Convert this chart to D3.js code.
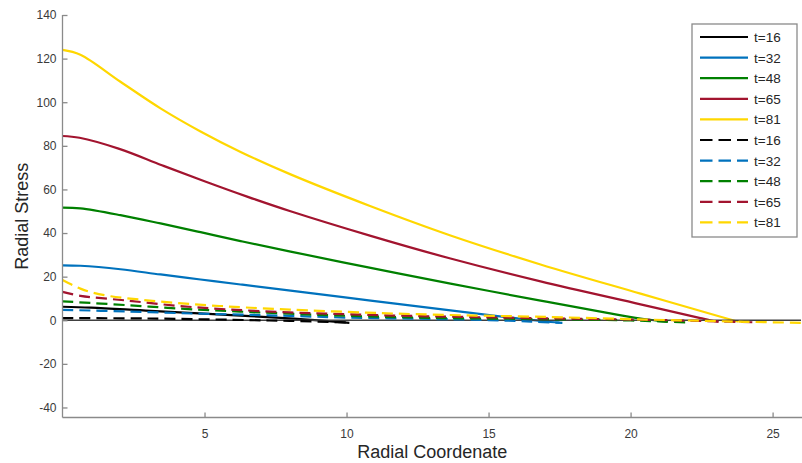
<!DOCTYPE html>
<html>
<head>
<meta charset="utf-8">
<script src="https://cdn.jsdelivr.net/npm/d3@7"></script>
<style>
  html, body { margin: 0; padding: 0; background: #fff; }
  svg { display: block; font-family: "Liberation Sans", Arial, sans-serif; }
</style>
</head>
<body>
<svg id="chart" width="802" height="463"></svg>
<script>
// ---------------- data ----------------
const legendLabels = ["t=16", "t=32", "t=48", "t=65", "t=81"];
const seriesColors = ["#000000", "#0072BD", "#008000", "#A2142F", "#FFD700"];
const xTicks = [5, 10, 15, 20, 25];
const yTicks = [-40, -20, 0, 20, 40, 60, 80, 100, 120, 140];

// solid curves (radius, stress)
const solidR16 = [0, 1, 3.1, 6.6, 8.5, 10.1];
const solidV16 = [6.2, 5.8, 4.3, 1.9, 0.4, -1.2];
const solidR32 = [0, 0.63, 2.04, 3.45, 4.86, 6.27, 8.03, 10.85, 13.66, 15.77, 17.18, 17.5];
const solidV32 = [25.2, 25, 23.4, 21, 18.7, 16.4, 13.6, 9.0, 4.5, 1.2, -0.8, -1.1];
const solidR48 = [0, 0.63, 2.04, 3.45, 4.86, 6.27, 8.03, 10.85, 13.66, 16.83, 19.18, 20.35, 21.3];
const solidV48 = [51.7, 51.3, 48.2, 44.4, 40.4, 36.3, 31.5, 24.0, 16.8, 9.0, 3.4, 0.8, -0.8];
const solidR65 = [0, 0.6, 2, 3.5, 5, 6.5, 8, 10.85, 13.66, 16.83, 20.35, 22.46, 22.8, 23.1];
const solidV65 = [84.5, 83.7, 78.6, 71.1, 63.75, 56.7, 50.1, 38.7, 28.3, 17.8, 7.3, 1.0, 0, -0.8];
const solidR81 = [0, 0.63, 2.04, 3.45, 4.86, 6.27, 8.03, 10.85, 13.66, 16.83, 20.35, 23.17, 23.6, 23.8];
const solidV81 = [124, 121.8, 109.4, 97.2, 86.6, 77.2, 66.9, 52.3, 38.9, 25.6, 12.2, 1.6, 0, -0.7];

// dashed curves (radius, stress)
const dashR16 = [0, 3, 6, 8, 10.1];
const dashV16 = [1.0, 0.8, 0.2, -0.3, -1.0];
const dashR32 = [0, 2.3, 4.6, 6.6, 8, 10.1, 13, 15, 16.5, 17.6];
const dashV32 = [4.8, 4.0, 3.1, 2.5, 2.0, 1.2, 0.6, 0.1, -0.6, -1.2];
const dashR48 = [0, 2.3, 4.6, 8, 10.1, 13, 17, 20, 21, 22];
const dashV48 = [8.7, 6.9, 5.0, 3.0, 2.0, 1.1, 0.5, -0.1, -0.5, -1.0];
const dashR65 = [0, 0.63, 2.3, 4.05, 5.8, 8, 10.1, 13, 17, 20.6, 22.7, 24.5];
const dashV65 = [13, 11.2, 9.0, 6.6, 5.0, 3.6, 2.7, 1.8, 0.9, 0.2, -0.4, -1.0];
const dashR81 = [0, 0.3, 0.63, 1, 1.7, 2.85, 4.05, 5.2, 6.4, 8, 10.7, 13, 17.1, 20.6, 22.7, 24, 26.2];
const dashV81 = [18.5, 16.5, 14.5, 12.9, 11.0, 9.3, 7.9, 6.8, 5.9, 4.9, 3.5, 2.6, 1.5, 0.3, -0.3, -0.7, -1.2];

const solidSeries = [
  [solidR16, solidV16], [solidR32, solidV32], [solidR48, solidV48], [solidR65, solidV65], [solidR81, solidV81]
];
const dashSeries = [
  [dashR16, dashV16], [dashR32, dashV32], [dashR48, dashV48], [dashR65, dashV65], [dashR81, dashV81]
];

// ---------------- chart ----------------
(function () {
const svg = d3.select("#chart");
const mLeft = 62.5, mRight = 801, mTop = 15, mBottom = 417.5;
const dashPattern = "11,6";

const x = d3.scaleLinear().domain([0, 26]).range([mLeft, mRight]);
const y = d3.scaleLinear().domain([-44.6, 140]).range([mBottom, mTop]);

svg.append("defs").append("clipPath").attr("id", "plotclip")
  .append("rect").attr("x", mLeft).attr("y", mTop - 5).attr("width", mRight - mLeft + 2).attr("height", mBottom - mTop + 5);

const line = d3.line().x(d => x(d[0])).y(d => y(d[1])).curve(d3.curveCatmullRom.alpha(0.5));
const toPts = s => s[0].map((r, i) => [r, s[1][i]]);

const plot = svg.append("g").attr("clip-path", "url(#plotclip)");

solidSeries.forEach((s, i) => {
  plot.append("path").datum(toPts(s))
    .attr("d", line).attr("fill", "none")
    .attr("stroke", seriesColors[i]).attr("stroke-width", 2.2)
    .attr("stroke-linejoin", "round");
});

// zero reference line
plot.append("path").datum([[0, 0], [26, 0]])
  .attr("d", d3.line().x(d => x(d[0])).y(d => y(d[1])))
  .attr("stroke", "#404040").attr("stroke-width", 1.3).attr("fill", "none");

dashSeries.forEach((s, i) => {
  plot.append("path").datum(toPts(s))
    .attr("d", line).attr("fill", "none")
    .attr("stroke", seriesColors[i]).attr("stroke-width", 2.2)
    .attr("stroke-dasharray", dashPattern);
});

// axes
const axisColor = "#8a8a8a";
const textColor = "#3a3a3a";

const yAxis = svg.append("g").attr("transform", `translate(${mLeft},0)`)
  .call(d3.axisRight(y).tickValues(yTicks).tickSize(5).tickFormat(d => String(d)));
yAxis.attr("font-size", null).attr("font-family", null);
yAxis.select(".domain").attr("d", `M0,${mTop}V${mBottom}`).attr("stroke", axisColor).attr("stroke-width", 1.3);
yAxis.selectAll(".tick line").attr("stroke", axisColor).attr("stroke-width", 1.3);
yAxis.selectAll(".tick text").attr("x", -6).attr("text-anchor", "end")
  .attr("fill", textColor).style("font-size", "12px");

const xAxis = svg.append("g").attr("transform", `translate(0,${mBottom})`)
  .call(d3.axisTop(x).tickValues(xTicks).tickSize(5).tickFormat(d => String(d)));
xAxis.attr("font-size", null).attr("font-family", null);
xAxis.select(".domain").attr("d", `M${mLeft},0H${802}`).attr("stroke", axisColor).attr("stroke-width", 1.3);
xAxis.selectAll(".tick line").attr("stroke", axisColor).attr("stroke-width", 1.3);
xAxis.selectAll(".tick text").attr("y", 20).attr("dy", "0").attr("text-anchor", "middle")
  .attr("fill", textColor).style("font-size", "12px");

// axis labels
svg.append("text").attr("x", (mLeft + 802) / 2).attr("y", 458)
  .attr("text-anchor", "middle").style("font-size", "18px").attr("fill", "#262626")
  .text("Radial Coordenate");
svg.append("text").attr("transform", `translate(28,${(mTop + mBottom) / 2}) rotate(-90)`)
  .attr("text-anchor", "middle").style("font-size", "18px").attr("fill", "#262626")
  .text("Radial Stress");

// legend
const lg = svg.append("g").attr("transform", "translate(692,24)");
lg.append("rect").attr("x", 0).attr("y", 0).attr("width", 105).attr("height", 213)
  .attr("fill", "#fff").attr("stroke", "#8a8a8a").attr("stroke-width", 1.3);
const rowH = 20.6;
const entries = [];
legendLabels.forEach((l, i) => entries.push({ label: l, color: seriesColors[i], dash: null }));
legendLabels.forEach((l, i) => entries.push({ label: l, color: seriesColors[i], dash: "12.5,6" }));
entries.forEach((e, i) => {
  const cy = 13 + i * rowH;
  lg.append("line").attr("x1", 8).attr("x2", 56).attr("y1", cy).attr("y2", cy)
    .attr("stroke", e.color).attr("stroke-width", 2.2)
    .attr("stroke-dasharray", e.dash);
  lg.append("text").attr("x", 62).attr("y", cy + 5).style("font-size", "13.5px").attr("fill", "#262626")
    .text(e.label);
});
})();
</script>
</body>
</html>
